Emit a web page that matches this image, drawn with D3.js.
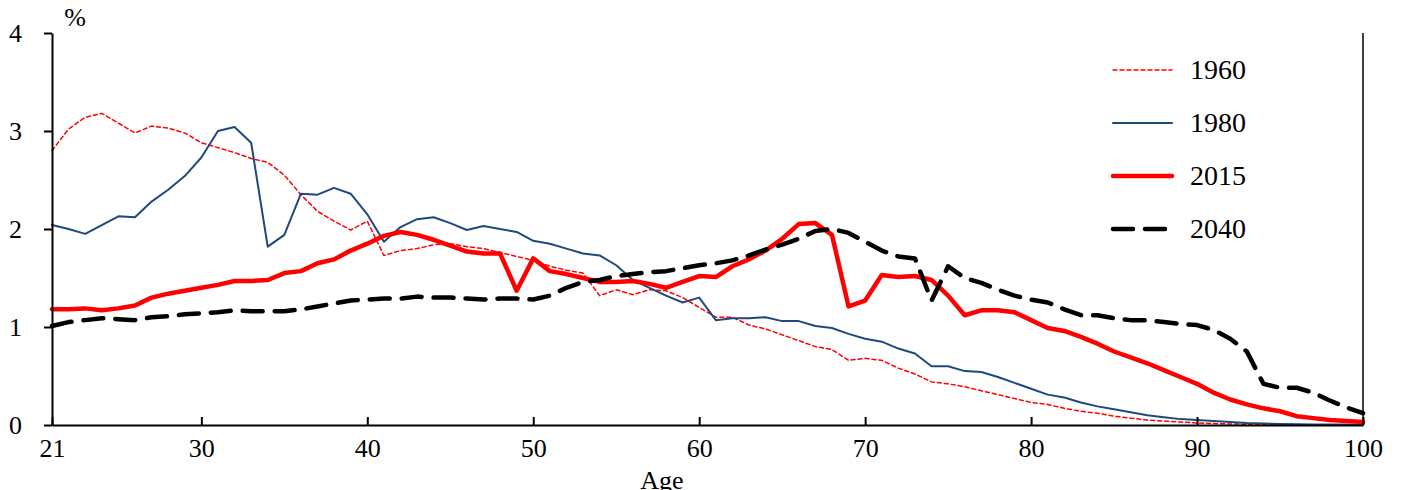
<!DOCTYPE html>
<html><head><meta charset="utf-8">
<script src="https://cdn.jsdelivr.net/npm/d3@7"></script>
<style>body{margin:0;background:#fff}svg text{font-family:"Liberation Serif","Times New Roman",serif !important;fill:#000}</style>
</head><body><svg id="c" width="1403" height="490"></svg>
<script>
const ages = d3.range(21, 101);
const s1960 = [2.80,3.02,3.14,3.18,3.08,2.98,3.05,3.03,2.98,2.88,2.83,2.78,2.72,2.68,2.55,2.35,2.18,2.08,1.99,2.08,1.73,1.78,1.80,1.84,1.85,1.82,1.80,1.76,1.72,1.68,1.62,1.58,1.55,1.32,1.38,1.33,1.38,1.37,1.30,1.20,1.10,1.10,1.02,0.98,0.92,0.86,0.80,0.77,0.66,0.68,0.66,0.58,0.52,0.44,0.42,0.39,0.35,0.31,0.27,0.23,0.21,0.17,0.14,0.12,0.09,0.07,0.05,0.04,0.03,0.02,0.015,0.01,0.008,0.006,0.005,0.004,0.003,0.002,0.001,0.001];
const s1980 = [2.04,2.00,1.95,2.04,2.13,2.12,2.28,2.40,2.54,2.73,3.00,3.04,2.88,1.82,1.94,2.36,2.35,2.42,2.36,2.15,1.87,2.02,2.10,2.12,2.06,1.99,2.03,2.00,1.97,1.88,1.85,1.80,1.75,1.73,1.63,1.48,1.40,1.32,1.25,1.30,1.07,1.09,1.09,1.10,1.06,1.06,1.01,0.99,0.93,0.88,0.85,0.78,0.73,0.60,0.60,0.55,0.54,0.49,0.43,0.37,0.31,0.28,0.23,0.19,0.16,0.13,0.10,0.08,0.06,0.05,0.04,0.03,0.02,0.015,0.01,0.008,0.006,0.005,0.004,0.003];
const s2015 = [1.18,1.18,1.19,1.17,1.19,1.22,1.30,1.34,1.37,1.40,1.43,1.47,1.47,1.48,1.55,1.57,1.65,1.69,1.78,1.85,1.93,1.97,1.94,1.89,1.83,1.77,1.75,1.75,1.37,1.70,1.57,1.54,1.50,1.46,1.46,1.47,1.44,1.40,1.46,1.52,1.51,1.62,1.69,1.78,1.90,2.05,2.06,1.94,1.21,1.27,1.53,1.51,1.52,1.48,1.32,1.12,1.17,1.17,1.15,1.07,0.99,0.96,0.90,0.83,0.75,0.69,0.63,0.56,0.49,0.42,0.33,0.26,0.21,0.17,0.14,0.09,0.07,0.05,0.04,0.03];
const s2040 = [1.01,1.05,1.07,1.09,1.08,1.07,1.10,1.11,1.13,1.14,1.15,1.17,1.16,1.16,1.16,1.18,1.21,1.24,1.27,1.28,1.29,1.29,1.31,1.30,1.30,1.29,1.28,1.29,1.29,1.28,1.32,1.40,1.46,1.48,1.52,1.54,1.56,1.57,1.60,1.63,1.65,1.68,1.73,1.79,1.84,1.90,1.98,2.00,1.96,1.87,1.78,1.72,1.70,1.27,1.62,1.50,1.45,1.38,1.32,1.28,1.25,1.18,1.12,1.12,1.09,1.07,1.07,1.05,1.03,1.02,0.97,0.88,0.75,0.42,0.38,0.38,0.33,0.25,0.18,0.12];
const xTicks = [21,30,40,50,60,70,80,90,100];
const yTicks = [0,1,2,3,4];
const series = [
  {name:"1960", data:s1960, color:"#ff0000", width:1.5, dash:"4,3"},
  {name:"1980", data:s1980, color:"#1f497d", width:2, dash:null},
  {name:"2015", data:s2015, color:"#ff0000", width:4.5, dash:null},
  {name:"2040", data:s2040, color:"#000000", width:4.5, dash:"20,12"}
];
const svg = d3.select("#c");
const x = d3.scaleLinear().domain([21,100]).range([52,1363]);
const y = d3.scaleLinear().domain([0,4]).range([425,33]);
const line = d => d3.line().x((v,i)=>x(ages[i])).y(v=>y(v))(d);
series.forEach(s=>{
  svg.append("path").attr("d",line(s.data)).attr("fill","none").attr("stroke",s.color)
    .attr("stroke-width",s.width).attr("stroke-dasharray",s.dash).attr("stroke-linejoin","round").attr("stroke-linecap","round");
});
const xa = svg.append("g").attr("transform","translate(0,425)")
  .call(d3.axisBottom(x).tickValues(xTicks).tickFormat(d3.format("d")).tickSize(-8).tickSizeOuter(0).tickPadding(14));
const ya = svg.append("g").attr("transform","translate(52,0)")
  .call(d3.axisLeft(y).tickValues(yTicks).tickFormat(d3.format("d")).tickSize(8).tickSizeOuter(0).tickPadding(22));
[xa,ya].forEach(a=>{a.selectAll("path,line").attr("stroke","#000").attr("stroke-width",2);
  a.selectAll("text").style("font-size","26px");});
svg.append("line").attr("x1",1363).attr("x2",1363).attr("y1",33).attr("y2",425).attr("stroke","#000").attr("stroke-width",1.5);
svg.append("text").attr("x",75).attr("y",26).attr("text-anchor","middle").style("font-size","26px").text("%");
svg.append("text").attr("x",662).attr("y",489).attr("text-anchor","middle").style("font-size","26px").text("Age");
series.forEach((s,i)=>{
  const ly = 70 + i*53;
  svg.append("line").attr("x1",1113).attr("x2",1172).attr("y1",ly).attr("y2",ly).attr("stroke",s.color)
    .attr("stroke-width",s.width).attr("stroke-dasharray",s.dash).attr("stroke-linecap","round");
  svg.append("text").attr("x",1190).attr("y",ly+9).style("font-size","28px").text(s.name);
});
</script></body></html>
